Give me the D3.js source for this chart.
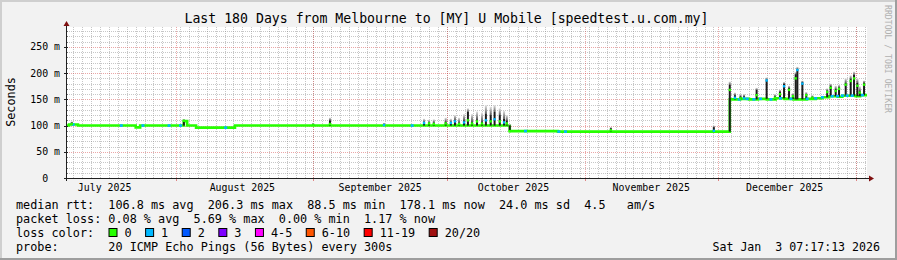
<!DOCTYPE html>
<html>
<head>
<meta charset="utf-8">
<script src="https://cdn.jsdelivr.net/npm/d3@7"></script>
<style>
  body { margin: 0; background: #f2f2f2; }
  svg { display: block; }
  text { font-family: "DejaVu Sans Mono", monospace; white-space: pre; }
</style>
</head>
<body>
<svg id="chart" width="897" height="260"></svg>
<script>
const parse = d3.timeParse("%Y-%m-%d %H:%M");

// median rtt in ms, each level holds until the next time
const medianTimes = ["2025-07-07 00:00","2025-07-08 00:00","2025-07-10 00:00","2025-07-23 00:00","2025-07-24 00:00",
  "2025-08-02 20:00","2025-08-03 14:00","2025-08-05 14:00","2025-08-14 08:00","2025-10-15 04:00","2025-10-26 00:00",
  "2025-12-03 16:00","2025-12-06 00:00","2025-12-08 00:00","2025-12-10 00:00","2025-12-12 00:00","2025-12-14 00:00",
  "2025-12-16 00:00","2025-12-18 00:00","2025-12-21 00:00","2025-12-23 00:00","2025-12-24 12:00","2025-12-26 00:00",
  "2025-12-28 00:00","2025-12-29 00:00","2026-01-01 00:00","2026-01-02 00:00"];
const medianValues = [100,102,100,96.5,100,108.5,100,96,100,89.5,88.5,
  150,151,150,151,150,152,151,150,151,152,154,156,155,157,156,158];

// smoke spikes: median at the spike, top of dark smoke, top of light smoke, lost pings
const spikeTimes = ["2025-07-08 15:00","2025-08-02 20:00","2025-08-31 22:00","2025-09-04 17:00","2025-09-16 21:00",
  "2025-09-25 21:00","2025-09-27 00:00","2025-09-28 02:00","2025-09-30 18:00","2025-10-01 22:00","2025-10-02 20:00",
  "2025-10-03 18:00","2025-10-04 21:00","2025-10-05 18:00","2025-10-06 16:00","2025-10-07 19:00","2025-10-08 22:00",
  "2025-10-09 19:00","2025-10-10 21:00","2025-10-11 18:00","2025-10-12 22:00","2025-10-13 21:00","2025-10-14 12:00",
  "2025-10-15 04:00","2025-11-06 22:00","2025-11-30 02:00",
  "2025-12-03 16:00","2025-12-04 20:00","2025-12-06 02:00","2025-12-06 21:00","2025-12-09 17:00","2025-12-11 23:00",
  "2025-12-13 20:00","2025-12-14 23:00","2025-12-15 21:00","2025-12-17 00:00","2025-12-17 21:00","2025-12-18 12:00",
  "2025-12-18 21:00","2025-12-20 00:00","2025-12-20 21:00","2025-12-22 06:00","2025-12-25 14:00","2025-12-26 09:00",
  "2025-12-27 12:00","2025-12-28 06:00","2025-12-29 18:00","2025-12-30 21:00","2025-12-31 15:00","2026-01-01 09:00",
  "2026-01-01 22:00","2026-01-02 21:00"];
const spikeMedian = [103,109,101,103,101,105,104,103,104,105,108,103,106,110,104,108,104,110,108,112,108,106,104,
  89.5,91,90,
  168,153,152,152,158,186,153,160,175,168,156,190,206,180,158,153,164,172,166,170,178,185,190,176,163,178];
const spikeDark = [106,111,103,110,103,107,106,106,108,107,111,106,110,126,108,112,108,122,120,126,120,113,110,
  100,95,97,
  178,158,156,156,168,188,156,165,180,172,158,198,208,183,160,155,167,176,170,173,182,189,197,182,167,182];
const spikeLight = [108,112,105,115,105,113,111,112,115,113,120,115,122,133,122,127,125,139,136,139,133,128,120,
  103,97,100,
  184,163,160,160,172,192,160,168,183,176,162,202,212,186,164,158,171,180,176,178,190,196,203,190,175,186];
const spikeLoss = [0,0,0,0,1,1,0,0,0,1,1,0,1,0,0,0,0,1,0,1,0,1,0,
  0,0,1,
  0,1,0,1,0,1,0,0,1,0,0,0,1,1,0,0,0,0,0,0,0,0,0,0,0,0];

// single lost ping spots on the median line
const lossTimes = ["2025-07-08 22:00","2025-07-19 18:00","2025-07-24 15:00","2025-07-30 12:00","2025-08-02 02:00",
  "2025-08-12 06:00","2025-09-23 05:00","2025-10-18 17:00","2025-10-26 05:00","2025-10-27 17:00",
  "2025-12-05 19:00","2025-12-07 14:00","2025-12-09 02:00","2025-12-10 14:00","2025-12-12 22:00","2025-12-15 02:00",
  "2025-12-17 10:00","2025-12-21 02:00","2025-12-23 00:00","2025-12-24 12:00","2025-12-26 17:00","2025-12-27 22:00",
  "2025-12-29 00:00","2025-12-30 02:00","2025-12-31 05:00","2026-01-02 12:00"];

const lossLabels = ["0","1","2","3","4-5","6-10","11-19","20/20"];
const lossColors = ["#26ff00","#00b8ff","#0059ff","#7e00ff","#ff00ff","#ff5500","#ff0000","#a01010"];

const legendRows = [
  "median rtt:  106.8 ms avg  206.3 ms max  88.5 ms min  178.1 ms now  24.0 ms sd  4.5   am/s",
  "packet loss: 0.08 % avg  5.69 % max  0.00 % min  1.17 % now",
  "loss color:",
  "probe:       20 ICMP Echo Pings (56 Bytes) every 300s"
];
const titleText = "Last 180 Days from Melbourne to [MY] U Mobile [speedtest.u.com.my]";
const stampText = "Sat Jan  3 07:17:13 2026";

// chart variables
const W = 897, H = 260;
const plot = {left: 67, right: 867, top: 27, bottom: 178};
const timeStart = parse("2025-07-07 13:00"), timeEnd = parse("2026-01-03 13:00");
const yMax = 288;

const x = d3.scaleTime().domain([timeStart, timeEnd]).range([plot.left, plot.right]);
const y = d3.scaleLinear().domain([0, yMax]).range([plot.bottom, plot.top]);
const px = v => Math.round(v) + 0.5;

const svg = d3.select("#chart");

// background with rrdtool style shading
svg.append("rect").attr("width", W).attr("height", H).attr("fill", "#f2f2f2");
svg.append("path").attr("d", `M0,0H${W}V2H2V${H}H0Z`).attr("fill", "#cfcfcf");
svg.append("path").attr("d", `M${W},${H}H0V${H-2}H${W-2}V0H${W}Z`).attr("fill", "#9e9e9e");

svg.append("rect")
   .attr("x", plot.left).attr("y", plot.top)
   .attr("width", plot.right - plot.left).attr("height", plot.bottom - plot.top)
   .attr("fill", "#fff");

// grid
const grid = svg.append("g").attr("shape-rendering", "crispEdges").attr("stroke-dasharray", "1,1");
const minorY = d3.range(10, yMax, 10).filter(v => v % 50 !== 0);
const majorY = d3.range(50, yMax, 50);
const minorX = d3.timeDay.range(parse("2025-07-09 00:00"), timeEnd, 2);
const majorX = d3.timeMonth.range(timeStart, timeEnd);

grid.selectAll(".gy").data(minorY).join("line")
    .attr("x1", plot.left).attr("x2", plot.right)
    .attr("y1", d => px(y(d))).attr("y2", d => px(y(d)))
    .attr("stroke", "rgba(130,130,130,0.45)");
grid.selectAll(".gx").data(minorX).join("line")
    .attr("x1", d => px(x(d))).attr("x2", d => px(x(d)))
    .attr("y1", plot.top).attr("y2", plot.bottom)
    .attr("stroke", "rgba(130,130,130,0.45)");
grid.selectAll(".my").data(majorY).join("line")
    .attr("x1", plot.left).attr("x2", plot.right)
    .attr("y1", d => px(y(d))).attr("y2", d => px(y(d)))
    .attr("stroke", "rgba(210,60,60,0.45)");
grid.selectAll(".mx").data(majorX).join("line")
    .attr("x1", d => px(x(d))).attr("x2", d => px(x(d)))
    .attr("y1", plot.top).attr("y2", plot.bottom)
    .attr("stroke", "rgba(210,60,60,0.45)");

// data
const medDates = medianTimes.map(parse);
const medianAt = t => medianValues[Math.max(0, d3.bisectRight(medDates, t) - 1)];
const medianData = medDates.map((d, i) => ({t: d, v: medianValues[i]}));
medianData.push({t: timeEnd, v: medianValues[medianValues.length - 1]});

const spikes = spikeTimes.map((s, i) => ({
  t: parse(s), med: spikeMedian[i], dark: spikeDark[i], light: spikeLight[i], loss: spikeLoss[i]
}));
// smoke starts at the lower of the median levels around the spike
const smokeBase = d => Math.min(medianAt(d.t), medianAt(d3.timeHour.offset(d.t, -6)));

svg.append("clipPath").attr("id", "clip").append("rect")
   .attr("x", plot.left).attr("y", plot.top)
   .attr("width", plot.right - plot.left).attr("height", plot.bottom - plot.top);

const defs = svg.append("defs");
const grad = defs.append("linearGradient").attr("id", "smoke").attr("x1", 0).attr("y1", 0).attr("x2", 0).attr("y2", 1);
grad.append("stop").attr("offset", "0%").attr("stop-color", "#e4e4e4");
grad.append("stop").attr("offset", "100%").attr("stop-color", "#5a5a5a");

const g = svg.append("g").attr("clip-path", "url(#clip)");

// median line
const line = d3.line()
               .x(d => x(d.t))
               .y(d => y(d.v))
               .curve(d3.curveStepAfter);
g.append("path")
 .datum(medianData)
 .attr("d", line)
 .attr("fill", "none")
 .attr("stroke", lossColors[0])
 .attr("stroke-width", 2.6);

// smoke
g.selectAll(".smokeLight").data(spikes).join("rect")
 .attr("x", d => x(d.t) - 1).attr("width", 2)
 .attr("y", d => y(d.light)).attr("height", d => Math.max(0, y(d.dark) - y(d.light)))
 .attr("fill", "url(#smoke)");
g.selectAll(".smokeDark").data(spikes).join("rect")
 .attr("x", d => x(d.t) - 1).attr("width", 2)
 .attr("y", d => y(d.dark)).attr("height", d => Math.max(0, y(smokeBase(d)) - y(d.dark)))
 .attr("fill", "#1c1c1c");

// loss spots on the median
g.selectAll(".loss").data(lossTimes.map(parse)).join("line")
 .attr("x1", d => x(d) - 1.5).attr("x2", d => x(d) + 1.5)
 .attr("y1", d => y(medianAt(d))).attr("y2", d => y(medianAt(d)))
 .attr("stroke", lossColors[1]).attr("stroke-width", 2.6);

// median at the spikes
g.selectAll(".spikeMed").data(spikes).join("line")
 .attr("x1", d => x(d.t) - 1.2).attr("x2", d => x(d.t) + 1.2)
 .attr("y1", d => y(d.med)).attr("y2", d => y(d.med))
 .attr("stroke", d => lossColors[d.loss]).attr("stroke-width", 2.4);

// axes
const axis = svg.append("g").attr("shape-rendering", "crispEdges");
axis.selectAll(".ty").data(d3.range(0, yMax, 10)).join("line")
    .attr("x1", d => d % 50 === 0 ? plot.left - 3 : plot.left - 1).attr("x2", plot.left + 1)
    .attr("y1", d => px(y(d))).attr("y2", d => px(y(d)))
    .attr("stroke", d => d % 50 === 0 ? "#202020" : "#777");
axis.selectAll(".tx").data(majorX).join("line")
    .attr("x1", d => px(x(d))).attr("x2", d => px(x(d)))
    .attr("y1", plot.bottom).attr("y2", plot.bottom + 3)
    .attr("stroke", "rgba(210,60,60,0.6)");
axis.append("line")
    .attr("x1", plot.left - 3).attr("x2", plot.right + 3)
    .attr("y1", px(plot.bottom)).attr("y2", px(plot.bottom))
    .attr("stroke", "#202020");
axis.append("line")
    .attr("x1", px(plot.left - 1)).attr("x2", px(plot.left - 1))
    .attr("y1", plot.bottom + 3).attr("y2", plot.top - 3)
    .attr("stroke", "#202020");
svg.append("path")
   .attr("d", `M${plot.left - 3.5},${plot.top - 1}L${plot.left + 2.5},${plot.top - 1}L${plot.left - 0.5},${plot.top - 6}Z`)
   .attr("fill", "#7f1010");
svg.append("path")
   .attr("d", `M${plot.right + 2},${plot.bottom - 2.5}L${plot.right + 2},${plot.bottom + 3.5}L${plot.right + 7},${plot.bottom + 0.5}Z`)
   .attr("fill", "#7f1010");

// y labels
svg.selectAll(".yl").data(majorY.concat([0])).join("text")
   .attr("x", plot.left - 7).attr("y", d => y(d)).attr("dy", "0.36em")
   .attr("text-anchor", "end").attr("font-size", "9.9px").attr("fill", "#000")
   .text(d => d === 0 ? "0  " : d + " m");

// x labels, centred in the month
const monthLabels = d3.timeMonth.range(d3.timeMonth.floor(timeStart), timeEnd)
                      .map(m => d3.timeDay.offset(m, 15))
                      .filter(m => m >= timeStart && m <= timeEnd);
svg.selectAll(".xl").data(monthLabels).join("text")
   .attr("x", d => x(d)).attr("y", 191)
   .attr("text-anchor", "middle").attr("font-size", "9.9px").attr("fill", "#000")
   .text(d => d3.timeFormat("%B %Y")(d3.timeMonth.floor(d)));

// titles
svg.append("text").attr("x", 446.5).attr("y", 23)
   .attr("text-anchor", "middle").attr("font-size", "13.2px").text(titleText);
svg.append("text").attr("transform", "translate(11,102) rotate(-90)").attr("dy", "0.36em")
   .attr("text-anchor", "middle").attr("font-size", "11.8px").text("Seconds");
svg.append("text").attr("transform", "translate(888,5) rotate(90)").attr("dy", "0.36em")
   .attr("font-size", "8.6px").attr("fill", "#b0b0b0")
   .attr("textLength", 108).attr("lengthAdjust", "spacingAndGlyphs")
   .text("RRDTOOL / TOBI OETIKER");

// legend
const legY = [208.5, 222.5, 236.5, 250.5];
svg.selectAll(".leg").data(legendRows).join("text")
   .attr("x", 16).attr("y", (d, i) => legY[i])
   .attr("font-size", "11.8px").text(d => d);
svg.append("text").attr("x", 880).attr("y", legY[3])
   .attr("text-anchor", "end").attr("font-size", "11.6px").text(stampText);

let lx = 108.5;
lossLabels.forEach(function(lab, i) {
  svg.append("rect").attr("x", lx + 0.5).attr("y", legY[2] - 8)
     .attr("width", 8).attr("height", 8)
     .attr("fill", lossColors[i]).attr("stroke", "#000").attr("stroke-width", 1);
  const t = svg.append("text").attr("x", lx + 16).attr("y", legY[2])
               .attr("font-size", "11.8px").text(lab);
  lx = lx + 16 + t.node().getComputedTextLength() + 13.5;
});
</script>
</body>
</html>
